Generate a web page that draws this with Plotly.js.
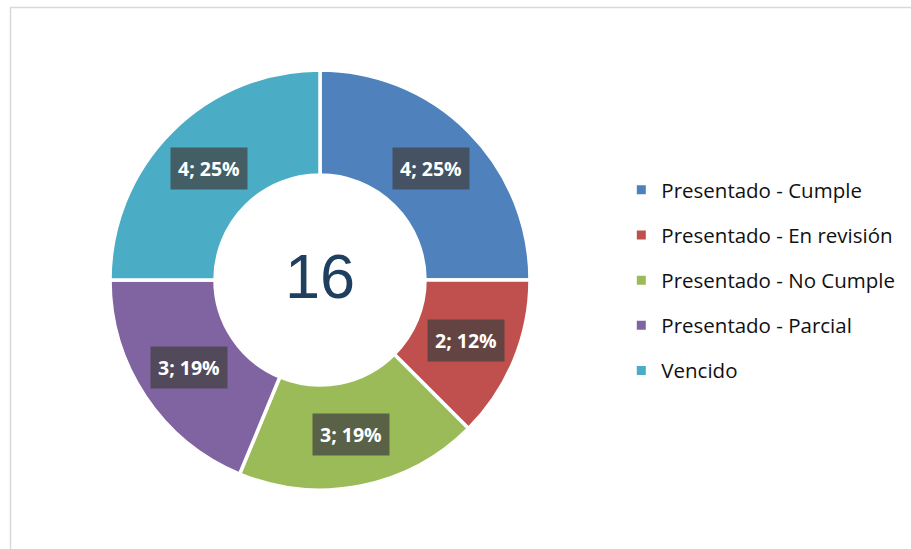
<!DOCTYPE html>
<html>
<head>
<meta charset="utf-8">
<script src="https://cdn.plot.ly/plotly-3.0.1.min.js"></script>
<style>html,body{margin:0;padding:0;background:#fff;}#chart{width:911px;height:549px;}</style>
</head>
<body>
<div id="chart"></div>
<script>
const categories = ["Presentado - Cumple", "Presentado - En revisión", "Presentado - No Cumple", "Presentado - Parcial", "Vencido"];
const values = [4, 2, 3, 3, 4];
const percentLabels = ["25%", "12%", "19%", "19%", "25%"];
const colors = ["#4F81BD", "#C0504D", "#9BBB59", "#8064A2", "#4BACC6"];

const W = 911, H = 549;
const cx = 320, cy = 280, R = 210;
const holeFrac = 0.5;
const domX = [(cx - R) / W, (cx + R) / W];
const domY = [(H - cy - R) / H, (H - cy + R) / H];

const total = values.reduce((a, b) => a + b, 0);

const traces = [{
  type: "pie",
  labels: categories,
  values: values,
  hole: holeFrac,
  sort: false,
  direction: "clockwise",
  rotation: 0,
  textinfo: "none",
  hoverinfo: "label+value+percent",
  marker: { colors: colors, line: { color: "#ffffff", width: 3.5 } },
  domain: { x: domX, y: domY },
  showlegend: false
}];

// legend entries
categories.forEach((c, i) => {
  traces.push({
    type: "scatter", mode: "markers", x: [null], y: [null],
    name: c, legendgroup: "g" + i,
    marker: { symbol: "square", size: 9, color: colors[i] },
    hoverinfo: "skip", showlegend: true
  });
});

// data labels placed at the middle of each ring segment (computed from data)
const annotations = [];
let cum = 0;
const midR = R * (1 + holeFrac) / 2;
values.forEach((v, i) => {
  const a = (cum + v / 2) / total * 2 * Math.PI;
  cum += v;
  const px = cx + midR * Math.sin(a);
  const py = cy - midR * Math.cos(a);
  annotations.push({
    xref: "paper", yref: "paper", x: px / W, y: 1 - py / H,
    xanchor: "center", yanchor: "middle", showarrow: false,
    text: "<b>" + v + "; " + percentLabels[i] + "</b>",
    font: { family: "'Open Sans', Lato, sans-serif", size: 19.5, color: "#ffffff" },
    bgcolor: "rgba(64,64,64,0.72)", borderpad: 7
  });
});
annotations.push({
  xref: "paper", yref: "paper", x: cx / W, y: 1 - (cy - 4) / H,
  xanchor: "center", yanchor: "middle", showarrow: false,
  text: String(total),
  font: { family: "'Liberation Sans', Arial, sans-serif", size: 63, color: "#1F3F60" }
});

const layout = {
  width: W, height: H,
  margin: { l: 0, r: 0, t: 0, b: 0 },
  paper_bgcolor: "#ffffff", plot_bgcolor: "#ffffff",
  xaxis: { visible: false, domain: [0.7, 0.71] },
  yaxis: { visible: false, domain: [0, 0.01] },
  showlegend: true,
  legend: {
    x: 0.682, y: 1 - 170 / H, xanchor: "left", yanchor: "top",
    font: { family: "'Open Sans', Lato, sans-serif", size: 20.5, color: "#111111" },
    tracegroupgap: 15.5, itemclick: false, itemdoubleclick: false,
    bgcolor: "rgba(0,0,0,0)"
  },
  annotations: annotations,
  shapes: [{
    type: "rect", xref: "paper", yref: "paper",
    x0: 10.5 / W, x1: 1.05, y0: -0.05, y1: 1 - 7.5 / H,
    line: { color: "#D9D9D9", width: 1.5 }, fillcolor: "rgba(0,0,0,0)", layer: "below"
  }]
};

Plotly.newPlot("chart", traces, layout, { displayModeBar: false, staticPlot: true });
</script>
</body>
</html>
